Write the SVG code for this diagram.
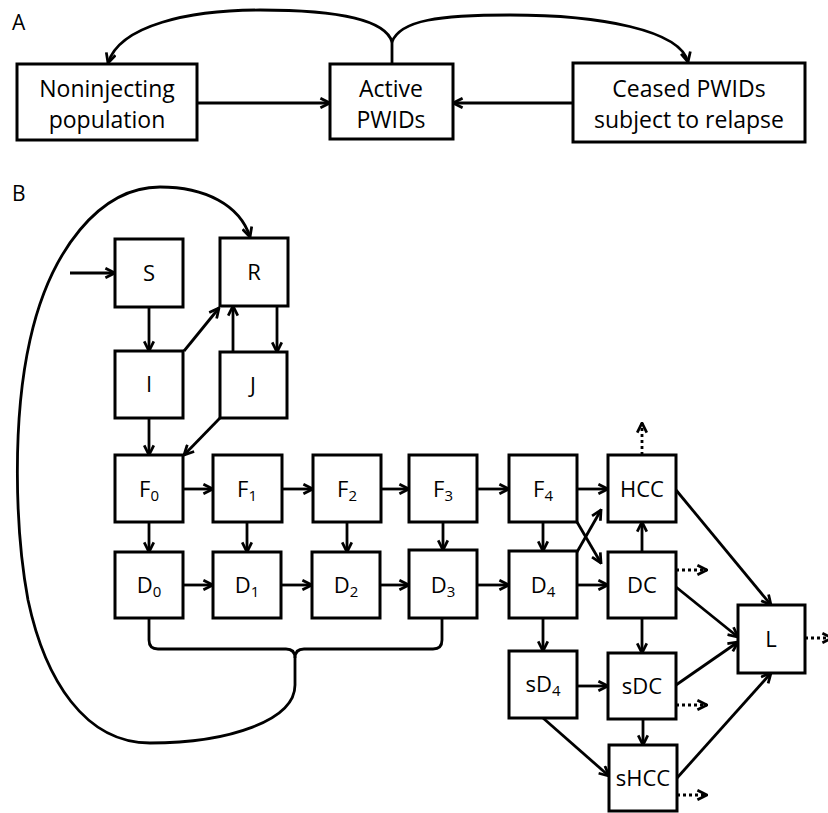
<svg xmlns="http://www.w3.org/2000/svg" width="828" height="813" viewBox="0 0 828 813">
<style>
.box{fill:#fff;stroke:#000;stroke-width:3}
.lbl{font-family:"Open Sans","Liberation Sans",sans-serif;font-size:22px;fill:#000;text-anchor:middle}
.lblA{font-family:"Open Sans","Liberation Sans",sans-serif;font-size:23px;fill:#000;text-anchor:middle}
.panel{font-family:"Open Sans","Liberation Sans",sans-serif;font-size:21px;fill:#000}
.sub{font-size:15px}
.ln{fill:none;stroke:#000;stroke-width:2.8;marker-end:url(#ah)}
.plain{fill:none;stroke:#000;stroke-width:2.8}
.dot{fill:none;stroke:#000;stroke-width:2.8;stroke-dasharray:3 3;marker-end:url(#ah)}
</style>
<defs>
<marker id="ah" viewBox="0 0 10 10" refX="9" refY="5" markerWidth="12" markerHeight="12" markerUnits="userSpaceOnUse" orient="auto">
<path d="M1,1 L9,5 L1,9" fill="none" stroke="#000" stroke-width="2.3"/>
</marker>
</defs>
<rect width="828" height="813" fill="#fff"/>
<text class="panel" x="12" y="30">A</text>
<text class="panel" x="12" y="201">B</text>
<g id="connectors">
<path class="plain" d="M392,64 V42"/>
<path class="ln" d="M392,42 C385,18 330,10 260,10 C190,10 120,25 108,63"/>
<path class="ln" d="M392,42 C400,20 440,15 510,15 C600,15 680,30 688,62"/>
<path class="ln" d="M197,103 H330"/>
<path class="ln" d="M573,103 H453"/>
<path class="plain" d="M149,618 V640 Q149,649 158,649 H286 Q295,649 295,658"/>
<path class="plain" d="M442,618 V640 Q442,649 433,649 H304 Q295,649 295,658"/>
<path class="ln" d="M295,658 V685 C295,720 230,743 150,743 C85,743 45,680 28,600 C15,530 12,420 30,340 C50,250 100,187 160,187 C205,187 240,205 250,237"/>
<path class="ln" d="M70,273 H115"/>
<path class="ln" d="M149,307 V351"/>
<path class="ln" d="M184,351 L219,308"/>
<path class="ln" d="M233,352 V306"/>
<path class="ln" d="M277,306 V352"/>
<path class="ln" d="M149,418 V455"/>
<path class="ln" d="M220,418 L184,455"/>
<path class="ln" d="M183,489 H213"/>
<path class="ln" d="M282,489 H313"/>
<path class="ln" d="M381,489 H409"/>
<path class="ln" d="M477,489 H509"/>
<path class="ln" d="M577,489 H608"/>
<path class="ln" d="M149,522 V552"/>
<path class="ln" d="M247,522 V552"/>
<path class="ln" d="M347,522 V552"/>
<path class="ln" d="M443,522 V550"/>
<path class="ln" d="M543,522 V551"/>
<path class="ln" d="M183,585 H213"/>
<path class="ln" d="M281,585 H312"/>
<path class="ln" d="M380,585 H409"/>
<path class="ln" d="M477,585 H509"/>
<path class="ln" d="M577,585 H608"/>
<path class="ln" d="M577,522 L601,563"/>
<path class="ln" d="M577,552 L601,510"/>
<path class="ln" d="M642,552 V522"/>
<path class="ln" d="M676,490 L771,605"/>
<path class="ln" d="M676,587 L738,637"/>
<path class="ln" d="M676,685 L738,642"/>
<path class="ln" d="M677,778 L771,673"/>
<path class="ln" d="M543,618 V651"/>
<path class="ln" d="M642,618 V653"/>
<path class="ln" d="M577,686 H608"/>
<path class="ln" d="M643,719 V745"/>
<path class="ln" d="M543,718 L609,776"/>
<path class="dot" d="M642,455 V423"/>
<path class="dot" d="M676,570 H707"/>
<path class="dot" d="M676,705 H707"/>
<path class="dot" d="M677,795 H707"/>
<path class="dot" d="M805,638 H832"/>
</g>
<g id="noninjecting"><rect class="box" x="17" y="64" width="180" height="76"/><text class="lblA" x="107" y="97">Noninjecting</text><text class="lblA" x="107" y="128">population</text></g>
<g id="active"><rect class="box" x="330" y="64" width="123" height="75"/><text class="lblA" x="391" y="97">Active</text><text class="lblA" x="391" y="128">PWIDs</text></g>
<g id="ceased"><rect class="box" x="573" y="63" width="232" height="79"/><text class="lblA" x="689" y="97">Ceased PWIDs</text><text class="lblA" x="689" y="128">subject to relapse</text></g>
<g id="S"><rect class="box" x="115" y="239" width="68" height="68"/><text class="lbl" x="149" y="281">S</text></g>
<g id="R"><rect class="box" x="220" y="238" width="68" height="68"/><text class="lbl" x="254" y="280">R</text></g>
<g id="I"><rect class="box" x="115" y="351" width="68" height="67"/><text class="lbl" x="149" y="392">I</text></g>
<g id="J"><rect class="box" x="220" y="352" width="67" height="66"/><text class="lbl" x="253" y="393">J</text></g>
<g id="F0"><rect class="box" x="115" y="455" width="68" height="67"/><text class="lbl" x="149" y="497">F<tspan class="sub" dy="4">0</tspan></text></g>
<g id="F1"><rect class="box" x="213" y="455" width="69" height="67"/><text class="lbl" x="247" y="497">F<tspan class="sub" dy="4">1</tspan></text></g>
<g id="F2"><rect class="box" x="313" y="455" width="68" height="67"/><text class="lbl" x="347" y="497">F<tspan class="sub" dy="4">2</tspan></text></g>
<g id="F3"><rect class="box" x="409" y="455" width="68" height="67"/><text class="lbl" x="443" y="497">F<tspan class="sub" dy="4">3</tspan></text></g>
<g id="F4"><rect class="box" x="509" y="455" width="68" height="67"/><text class="lbl" x="543" y="497">F<tspan class="sub" dy="4">4</tspan></text></g>
<g id="HCC"><rect class="box" x="608" y="455" width="68" height="67"/><text class="lbl" x="642" y="497">HCC</text></g>
<g id="D0"><rect class="box" x="115" y="552" width="68" height="66"/><text class="lbl" x="149" y="593">D<tspan class="sub" dy="4">0</tspan></text></g>
<g id="D1"><rect class="box" x="213" y="552" width="68" height="66"/><text class="lbl" x="247" y="593">D<tspan class="sub" dy="4">1</tspan></text></g>
<g id="D2"><rect class="box" x="312" y="552" width="68" height="66"/><text class="lbl" x="346" y="593">D<tspan class="sub" dy="4">2</tspan></text></g>
<g id="D3"><rect class="box" x="409" y="550" width="68" height="68"/><text class="lbl" x="443" y="593">D<tspan class="sub" dy="4">3</tspan></text></g>
<g id="D4"><rect class="box" x="509" y="551" width="68" height="67"/><text class="lbl" x="543" y="593">D<tspan class="sub" dy="4">4</tspan></text></g>
<g id="DC"><rect class="box" x="608" y="552" width="68" height="66"/><text class="lbl" x="642" y="593">DC</text></g>
<g id="sD4"><rect class="box" x="509" y="651" width="68" height="67"/><text class="lbl" x="543" y="692">sD<tspan class="sub" dy="4">4</tspan></text></g>
<g id="sDC"><rect class="box" x="608" y="653" width="68" height="66"/><text class="lbl" x="642" y="694">sDC</text></g>
<g id="sHCC"><rect class="box" x="609" y="745" width="68" height="66"/><text class="lbl" x="643" y="786">sHCC</text></g>
<g id="L"><rect class="box" x="738" y="605" width="67" height="68"/><text class="lbl" x="771" y="647">L</text></g>
</svg>
